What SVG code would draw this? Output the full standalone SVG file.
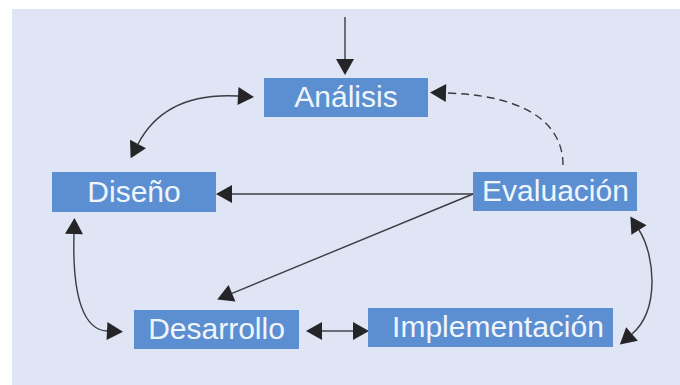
<svg xmlns="http://www.w3.org/2000/svg" width="680" height="385" viewBox="0 0 680 385">
  <defs>
    <style>
      .box { fill: #5b8fd2; }
      .lbl { font-family: "Liberation Sans", Arial, sans-serif; font-size: 30px; fill: #f0f5fc; text-anchor: middle; }
      .ln { fill: none; stroke: #3c3c40; stroke-width: 1.4; }
      .dash { stroke-dasharray: 8 5; }
    </style>
    <marker id="ah" markerUnits="userSpaceOnUse" markerWidth="17" markerHeight="18" refX="0" refY="9" orient="auto-start-reverse" overflow="visible">
      <path d="M0,0 L16,9 L0,18 Z" fill="#252528"/>
    </marker>
  </defs>

  <rect x="12" y="9" width="668" height="376" fill="#dfe5f5"/>

  <g id="connectors">
    <line class="ln" x1="345" y1="17" x2="345" y2="59" marker-end="url(#ah)"/>
    <path class="ln" d="M238,96 Q165,92 138,144" marker-start="url(#ah)" marker-end="url(#ah)"/>
    <path class="ln dash" d="M563,165 C563,120 520,95 446,93" marker-end="url(#ah)"/>
    <line class="ln" x1="473" y1="194" x2="232" y2="194" marker-end="url(#ah)"/>
    <line class="ln" x1="473" y1="194" x2="232" y2="293.3" marker-end="url(#ah)"/>
    <path class="ln" d="M74,234 C72,300 85,330 107,331" marker-start="url(#ah)" marker-end="url(#ah)"/>
    <line class="ln" x1="322" y1="331" x2="353" y2="331" marker-start="url(#ah)" marker-end="url(#ah)"/>
    <path class="ln" d="M639,230 C655,255 660,310 632,334" marker-start="url(#ah)" marker-end="url(#ah)"/>
  </g>

  <g id="analisis">
    <rect class="box" x="264" y="78" width="164" height="39"/>
    <text class="lbl" x="346" y="107">Análisis</text>
  </g>
  <g id="diseno">
    <rect class="box" x="52" y="172" width="164" height="40"/>
    <text class="lbl" x="134" y="201.5">Diseño</text>
  </g>
  <g id="evaluacion">
    <rect class="box" x="473" y="172" width="164" height="39"/>
    <text class="lbl" x="555.5" y="201">Evaluación</text>
  </g>
  <g id="desarrollo">
    <rect class="box" x="134" y="310" width="165" height="39"/>
    <text class="lbl" x="216.5" y="339">Desarrollo</text>
  </g>
  <g id="implementacion">
    <rect class="box" x="368" y="308" width="245" height="39"/>
    <text class="lbl" x="498" y="337">Implementación</text>
  </g>
</svg>
